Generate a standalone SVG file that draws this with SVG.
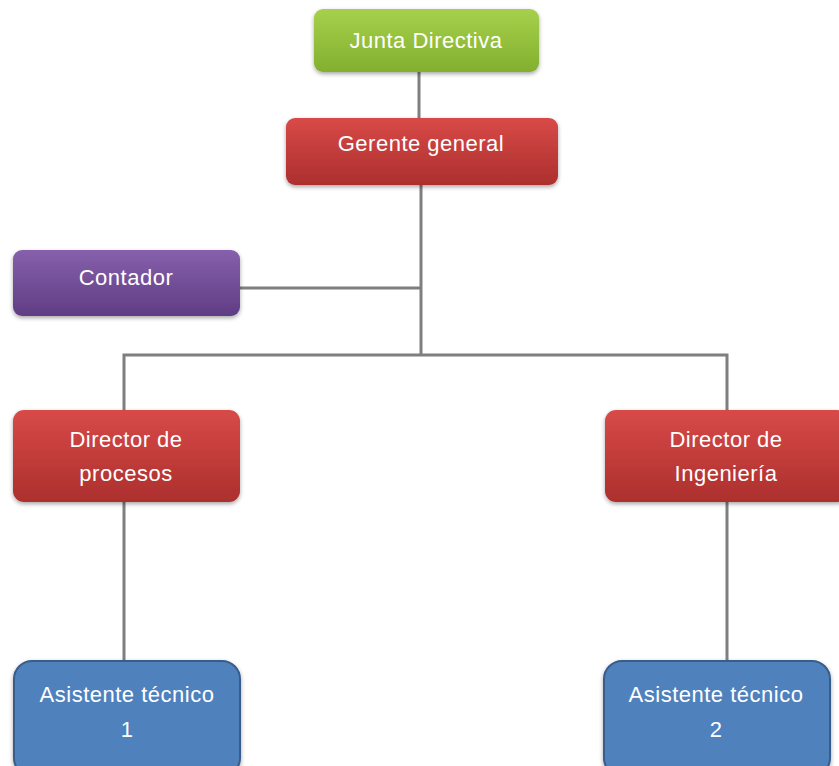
<svg xmlns="http://www.w3.org/2000/svg" width="839" height="766" viewBox="0 0 839 766">
<defs>
<linearGradient id="gGreen" x1="0" y1="0" x2="0" y2="1"><stop offset="0" stop-color="#a6d04c"/><stop offset="1" stop-color="#82b02e"/></linearGradient>
<linearGradient id="gRed" x1="0" y1="0" x2="0" y2="1"><stop offset="0" stop-color="#d84a48"/><stop offset="1" stop-color="#ac2f2d"/></linearGradient>
<linearGradient id="gPurple" x1="0" y1="0" x2="0" y2="1"><stop offset="0" stop-color="#8660ac"/><stop offset="1" stop-color="#5f3d83"/></linearGradient>
<filter id="sh" x="-10%" y="-10%" width="120%" height="130%"><feDropShadow dx="0" dy="2" stdDeviation="2" flood-color="#000" flood-opacity="0.35"/></filter>
</defs>
<style>
.t{font-family:"Liberation Sans",Arial,sans-serif;font-size:22px;letter-spacing:0.5px;fill:#fff;text-anchor:middle}
.c{stroke:#7f7f7f;stroke-width:3;fill:none}
.blue{fill:#4f81bd;stroke:#385d8a;stroke-width:2}
</style>
<rect width="839" height="766" fill="#fff"/>
<g id="connectors">
<line class="c" x1="419" y1="72" x2="419" y2="118"/>
<line class="c" x1="421" y1="185" x2="421" y2="355"/>
<line class="c" x1="240" y1="288" x2="421" y2="288"/>
<polyline class="c" points="124,410 124,355 727,355 727,410"/>
<line class="c" x1="124" y1="502" x2="124" y2="661"/>
<line class="c" x1="727" y1="502" x2="727" y2="661"/>
</g>
<g id="junta">
<rect x="314" y="9" width="225" height="63" rx="9" fill="url(#gGreen)" filter="url(#sh)"/>
<text class="t" x="426" y="48">Junta Directiva</text>
</g>
<g id="gerente">
<rect x="286" y="118" width="272" height="67" rx="9" fill="url(#gRed)" filter="url(#sh)"/>
<text class="t" x="421" y="151">Gerente general</text>
</g>
<g id="contador">
<rect x="13" y="250" width="227" height="66" rx="9" fill="url(#gPurple)" filter="url(#sh)"/>
<text class="t" x="126" y="285">Contador</text>
</g>
<g id="dir-procesos">
<rect x="13" y="410" width="227" height="92" rx="11" fill="url(#gRed)" filter="url(#sh)"/>
<text class="t" x="126" y="447">Director de</text>
<text class="t" x="126" y="481">procesos</text>
</g>
<g id="dir-ingenieria">
<rect x="605" y="410" width="243" height="92" rx="11" fill="url(#gRed)" filter="url(#sh)"/>
<text class="t" x="726" y="447">Director de</text>
<text class="t" x="726" y="481">Ingeniería</text>
</g>
<g id="asistente1">
<rect x="14" y="661" width="226" height="115" rx="18" class="blue" filter="url(#sh)"/>
<text class="t" x="127" y="702">Asistente técnico</text>
<text class="t" x="127" y="737">1</text>
</g>
<g id="asistente2">
<rect x="604" y="661" width="226" height="115" rx="18" class="blue" filter="url(#sh)"/>
<text class="t" x="716" y="702">Asistente técnico</text>
<text class="t" x="716" y="737">2</text>
</g>
</svg>
